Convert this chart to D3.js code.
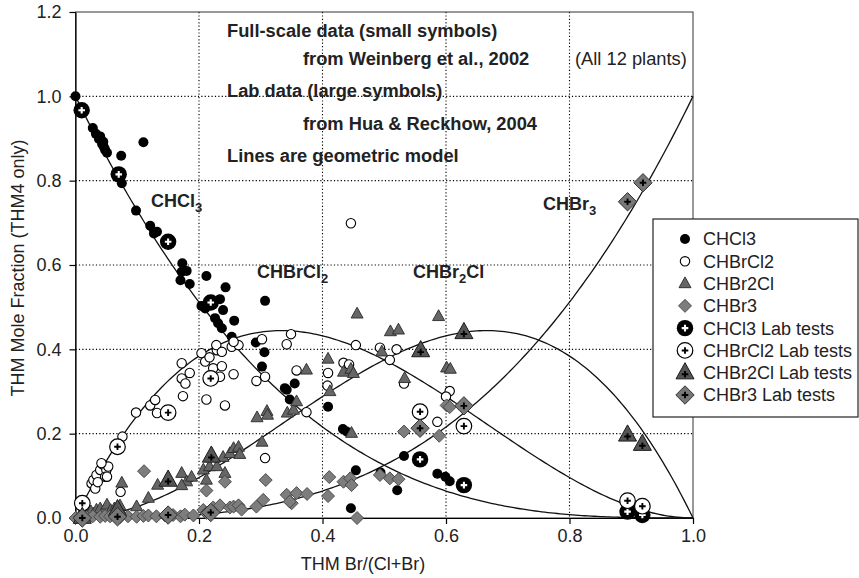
<!DOCTYPE html>
<html><head><meta charset="utf-8">
<script src="https://cdn.jsdelivr.net/npm/d3@7"></script>
<style>
body{margin:0;background:#fff}
svg{display:block;font-family:"Liberation Sans",Arial,Helvetica,sans-serif}
</style>
</head><body>
<svg id="chart" width="859" height="578"></svg>
<script>
// Full-scale plant data: [Br/(Cl+Br), mole fraction]
const chcl3 = [[0.0,1.0],[0.028,0.925],[0.033,0.911],[0.038,0.899],[0.043,0.887],[0.046,0.880],[0.048,0.873],[0.051,0.866],[0.040,0.905],[0.045,0.892],[0.110,0.891],[0.074,0.859],[0.075,0.794],[0.098,0.729],[0.121,0.693],[0.127,0.675],[0.132,0.679],[0.173,0.604],[0.172,0.584],[0.180,0.586],[0.170,0.564],[0.185,0.555],[0.212,0.574],[0.243,0.547],[0.307,0.515],[0.204,0.503],[0.210,0.497],[0.234,0.519],[0.239,0.493],[0.226,0.474],[0.231,0.462],[0.237,0.450],[0.257,0.468],[0.253,0.430],[0.292,0.416],[0.306,0.393],[0.302,0.359],[0.342,0.304],[0.355,0.319],[0.347,0.281],[0.339,0.308],[0.409,0.264],[0.433,0.211],[0.439,0.205],[0.454,0.113],[0.446,0.023],[0.494,0.108],[0.521,0.066],[0.532,0.147],[0.586,0.105],[0.599,0.098],[0.606,0.087]];
const chbrcl2 = [[0.026,0.082],[0.029,0.090],[0.034,0.102],[0.040,0.114],[0.045,0.126],[0.050,0.114],[0.053,0.122],[0.048,0.098],[0.032,0.070],[0.042,0.130],[0.051,0.098],[0.036,0.085],[0.073,0.062],[0.076,0.193],[0.098,0.250],[0.121,0.267],[0.129,0.280],[0.132,0.249],[0.172,0.331],[0.178,0.319],[0.174,0.289],[0.185,0.344],[0.172,0.367],[0.212,0.281],[0.242,0.267],[0.234,0.335],[0.204,0.391],[0.210,0.371],[0.217,0.381],[0.229,0.398],[0.228,0.410],[0.237,0.394],[0.253,0.406],[0.264,0.410],[0.256,0.418],[0.223,0.355],[0.237,0.360],[0.256,0.341],[0.293,0.325],[0.307,0.335],[0.302,0.424],[0.342,0.412],[0.349,0.436],[0.358,0.350],[0.409,0.344],[0.408,0.314],[0.434,0.368],[0.443,0.364],[0.454,0.410],[0.493,0.404],[0.520,0.400],[0.509,0.375],[0.374,0.251],[0.307,0.142],[0.446,0.699],[0.532,0.319],[0.606,0.301],[0.600,0.288],[0.586,0.228]];
const chbr2cl = [[0.010,0.008],[0.018,0.012],[0.025,0.015],[0.030,0.010],[0.034,0.019],[0.040,0.022],[0.045,0.015],[0.051,0.031],[0.057,0.018],[0.063,0.022],[0.072,0.029],[0.068,0.012],[0.075,0.083],[0.099,0.027],[0.118,0.047],[0.133,0.078],[0.172,0.106],[0.180,0.086],[0.188,0.097],[0.172,0.077],[0.207,0.114],[0.212,0.090],[0.217,0.122],[0.229,0.122],[0.239,0.144],[0.242,0.106],[0.250,0.153],[0.256,0.165],[0.264,0.168],[0.266,0.151],[0.302,0.180],[0.294,0.238],[0.310,0.253],[0.311,0.244],[0.343,0.249],[0.353,0.256],[0.358,0.276],[0.374,0.351],[0.409,0.377],[0.412,0.300],[0.434,0.346],[0.446,0.353],[0.450,0.343],[0.456,0.484],[0.588,0.478],[0.510,0.442],[0.523,0.446],[0.496,0.394],[0.533,0.331],[0.601,0.356],[0.607,0.353],[0.447,0.201]];
const chbr3 = [[0.0,0.0],[0.008,0.003],[0.018,0.002],[0.028,0.004],[0.040,0.003],[0.048,0.005],[0.056,0.004],[0.072,0.002],[0.085,0.004],[0.099,0.003],[0.110,0.005],[0.118,0.006],[0.131,0.004],[0.145,0.006],[0.158,0.007],[0.170,0.004],[0.177,0.008],[0.191,0.006],[0.207,0.019],[0.212,0.012],[0.223,0.025],[0.234,0.030],[0.250,0.025],[0.256,0.027],[0.264,0.030],[0.269,0.020],[0.293,0.027],[0.304,0.043],[0.111,0.111],[0.212,0.065],[0.242,0.086],[0.308,0.090],[0.342,0.055],[0.350,0.035],[0.347,0.039],[0.358,0.059],[0.375,0.057],[0.409,0.052],[0.411,0.097],[0.434,0.086],[0.445,0.094],[0.447,0.078],[0.456,0.000],[0.493,0.102],[0.509,0.094],[0.523,0.092],[0.532,0.205],[0.589,0.195],[0.601,0.267],[0.606,0.263]];

// Laboratory test data
const chcl3Lab = [[0.010,0.967],[0.070,0.815],[0.150,0.655],[0.219,0.511],[0.558,0.139],[0.629,0.078],[0.894,0.015],[0.918,0.007]];
const chbrcl2Lab = [[0.011,0.035],[0.068,0.169],[0.150,0.250],[0.219,0.331],[0.558,0.252],[0.629,0.218],[0.894,0.041],[0.918,0.028]];
const chbr2clLab = [[0.011,0.002],[0.068,0.020],[0.150,0.090],[0.220,0.147],[0.559,0.397],[0.629,0.440],[0.894,0.197],[0.918,0.175]];
const chbr3Lab = [[0.011,0.000],[0.068,0.003],[0.150,0.007],[0.219,0.013],[0.558,0.213],[0.629,0.266],[0.894,0.750],[0.919,0.795]];

const xTicks = [0, 0.2, 0.4, 0.6, 0.8, 1.0];
const yTicks = [0, 0.2, 0.4, 0.6, 0.8, 1.0, 1.2];
const legendLabels = ["CHCl3","CHBrCl2","CHBr2Cl","CHBr3","CHCl3 Lab tests","CHBrCl2 Lab tests","CHBr2Cl Lab tests","CHBr3 Lab tests"];

const svg = d3.select("#chart");
const L = 75.5, R = 693, T = 12, B = 518;
const x = d3.scaleLinear().domain([0, 1]).range([L, R]);
const y = d3.scaleLinear().domain([0, 1.2]).range([B, T]);

// dotted grid
const grid = svg.append("g").attr("stroke", "#000").attr("stroke-width", 1.1).attr("stroke-dasharray", "1.2,2.2");
grid.selectAll("line.gx").data(xTicks.filter(d => d > 0 && d < 1)).join("line")
  .attr("x1", d => x(d)).attr("x2", d => x(d)).attr("y1", T).attr("y2", B);
grid.selectAll("line.gy").data(yTicks.filter(d => d > 0 && d < 1.2)).join("line")
  .attr("x1", L).attr("x2", R).attr("y1", d => y(d)).attr("y2", d => y(d));

// frame
svg.append("rect").attr("x", L).attr("y", T).attr("width", R - L).attr("height", B - T)
  .attr("fill", "none").attr("stroke", "#333").attr("stroke-width", 1);

// axes
const fmt = d3.format(".1f");
const xAxis = svg.append("g").attr("transform", `translate(0,${B})`)
  .call(d3.axisBottom(x).tickValues(xTicks).tickFormat(fmt).tickSize(6).tickSizeOuter(0));
const yAxis = svg.append("g").attr("transform", `translate(${L},0)`)
  .call(d3.axisLeft(y).tickValues(yTicks).tickFormat(fmt).tickSize(6).tickSizeOuter(0));
[xAxis, yAxis].forEach(a => {
  a.select(".domain").attr("stroke", "#000").attr("stroke-width", 1.2);
  a.selectAll(".tick line").attr("stroke", "#000").attr("stroke-width", 1.2);
  a.selectAll("text").attr("font-size", 18).attr("fill", "#222").attr("font-family", "Liberation Sans, Arial, sans-serif");
});
xAxis.selectAll("text").attr("dy", "0.71em").attr("y", 11);
yAxis.selectAll("text").attr("x", -14);

svg.append("text").attr("x", 363).attr("y", 570).attr("text-anchor", "middle")
  .attr("font-size", 18).attr("fill", "#222").text("THM Br/(Cl+Br)");
svg.append("text").attr("transform", "translate(24,268) rotate(-90)").attr("text-anchor", "middle")
  .attr("font-size", 18).attr("fill", "#222").text("THM Mole Fraction (THM4 only)");

// geometric (binomial) model curves
const pGrid = d3.range(0, 1.0001, 0.005);
const models = [
  p => (1 - p) ** 3,
  p => 3 * p * (1 - p) ** 2,
  p => 3 * p * p * (1 - p),
  p => p ** 3
];
const line = d3.line().x(d => x(d[0])).y(d => y(d[1]));
svg.append("g").selectAll("path").data(models).join("path")
  .attr("d", f => line(pGrid.map(p => [p, f(p)])))
  .attr("fill", "none").attr("stroke", "#111").attr("stroke-width", 1.3);

// marker drawing helpers
function tri(s) { const h = s * 0.9; return `M0,${-h*0.62}L${s/2},${h*0.38}L${-s/2},${h*0.38}Z`; }
function dia(h) { return `M0,${-h}L${h},0L0,${h}L${-h},0Z`; }
function plus(g, c, len, w) {
  g.append("path").attr("d", `M${-len},0H${len}M0,${-len}V${len}`).attr("stroke", c).attr("stroke-width", w).attr("fill", "none");
}
const styles = [
  g => g.append("circle").attr("r", 5).attr("fill", "#000"),
  g => g.append("circle").attr("r", 4.7).attr("fill", "#fff").attr("stroke", "#000").attr("stroke-width", 1.1),
  g => g.append("path").attr("d", tri(12)).attr("fill", "#666").attr("stroke", "#2a2a2a").attr("stroke-width", 0.9),
  g => g.append("path").attr("d", dia(6.5)).attr("fill", "#7d7d7d").attr("stroke", "#444").attr("stroke-width", 0.9),
  g => { g.append("circle").attr("r", 8.2).attr("fill", "#000"); plus(g, "#fff", 3.3, 2.1); },
  g => { g.append("circle").attr("r", 7.8).attr("fill", "#fff").attr("stroke", "#000").attr("stroke-width", 1.2); plus(g, "#000", 3.3, 1.9); },
  g => { g.append("path").attr("d", tri(18)).attr("fill", "#555").attr("stroke", "#1a1a1a").attr("stroke-width", 1); g.append("g").attr("transform","translate(0,1.5)").call(gg => plus(gg, "#000", 3.3, 1.9)); },
  g => { g.append("path").attr("d", dia(9.2)).attr("fill", "#777").attr("stroke", "#333").attr("stroke-width", 1); plus(g, "#000", 3.3, 1.9); }
];
const allSeries = [chcl3, chbrcl2, chbr2cl, chbr3, chcl3Lab, chbrcl2Lab, chbr2clLab, chbr3Lab];
allSeries.forEach((data, i) => {
  svg.append("g").selectAll("g").data(data).join("g")
    .attr("transform", d => `translate(${x(d[0])},${y(d[1])})`)
    .each(function () { styles[i](d3.select(this)); });
});

// annotations
const notes = svg.append("g").attr("font-size", 18.3).attr("font-weight", "bold").attr("fill", "#222");
notes.append("text").attr("x", 227).attr("y", 37).text("Full-scale data (small symbols)");
notes.append("text").attr("x", 303).attr("y", 65).text("from Weinberg et al., 2002");
notes.append("text").attr("x", 227).attr("y", 97).text("Lab data (large symbols)");
notes.append("text").attr("x", 303).attr("y", 130).text("from Hua & Reckhow, 2004");
notes.append("text").attr("x", 227).attr("y", 162).text("Lines are geometric model");
svg.append("text").attr("x", 575).attr("y", 65).attr("font-size", 18.3).attr("fill", "#222").text("(All 12 plants)");

// curve labels with subscripts
function chem(xp, yp, base, sub, tail) {
  const t = svg.append("text").attr("x", xp).attr("y", yp).attr("font-size", 18).attr("font-weight", "bold").attr("fill", "#222");
  t.append("tspan").text(base);
  t.append("tspan").attr("font-size", 13).attr("dy", 5).text(sub);
  if (tail) t.append("tspan").attr("dy", -5).text(tail);
}
chem(151, 207, "CHCl", "3");
chem(257, 278, "CHBrCl", "2");
chem(413, 278, "CHBr", "2", "Cl");
chem(543, 210, "CHBr", "3");

// legend
const lg = svg.append("g");
lg.append("rect").attr("x", 653).attr("y", 219).attr("width", 205).attr("height", 198)
  .attr("fill", "#fff").attr("stroke", "#222").attr("stroke-width", 1.2);
const rowY = d3.scalePoint().domain(d3.range(legendLabels.length)).range([239, 395]);
legendLabels.forEach((lab, i) => {
  const g = lg.append("g").attr("transform", `translate(685,${rowY(i)})`);
  styles[i](g);
  lg.append("text").attr("x", 703).attr("y", rowY(i)).attr("dy", "0.36em")
    .attr("font-size", 18).attr("fill", "#222").text(lab);
});
</script>
</body></html>
